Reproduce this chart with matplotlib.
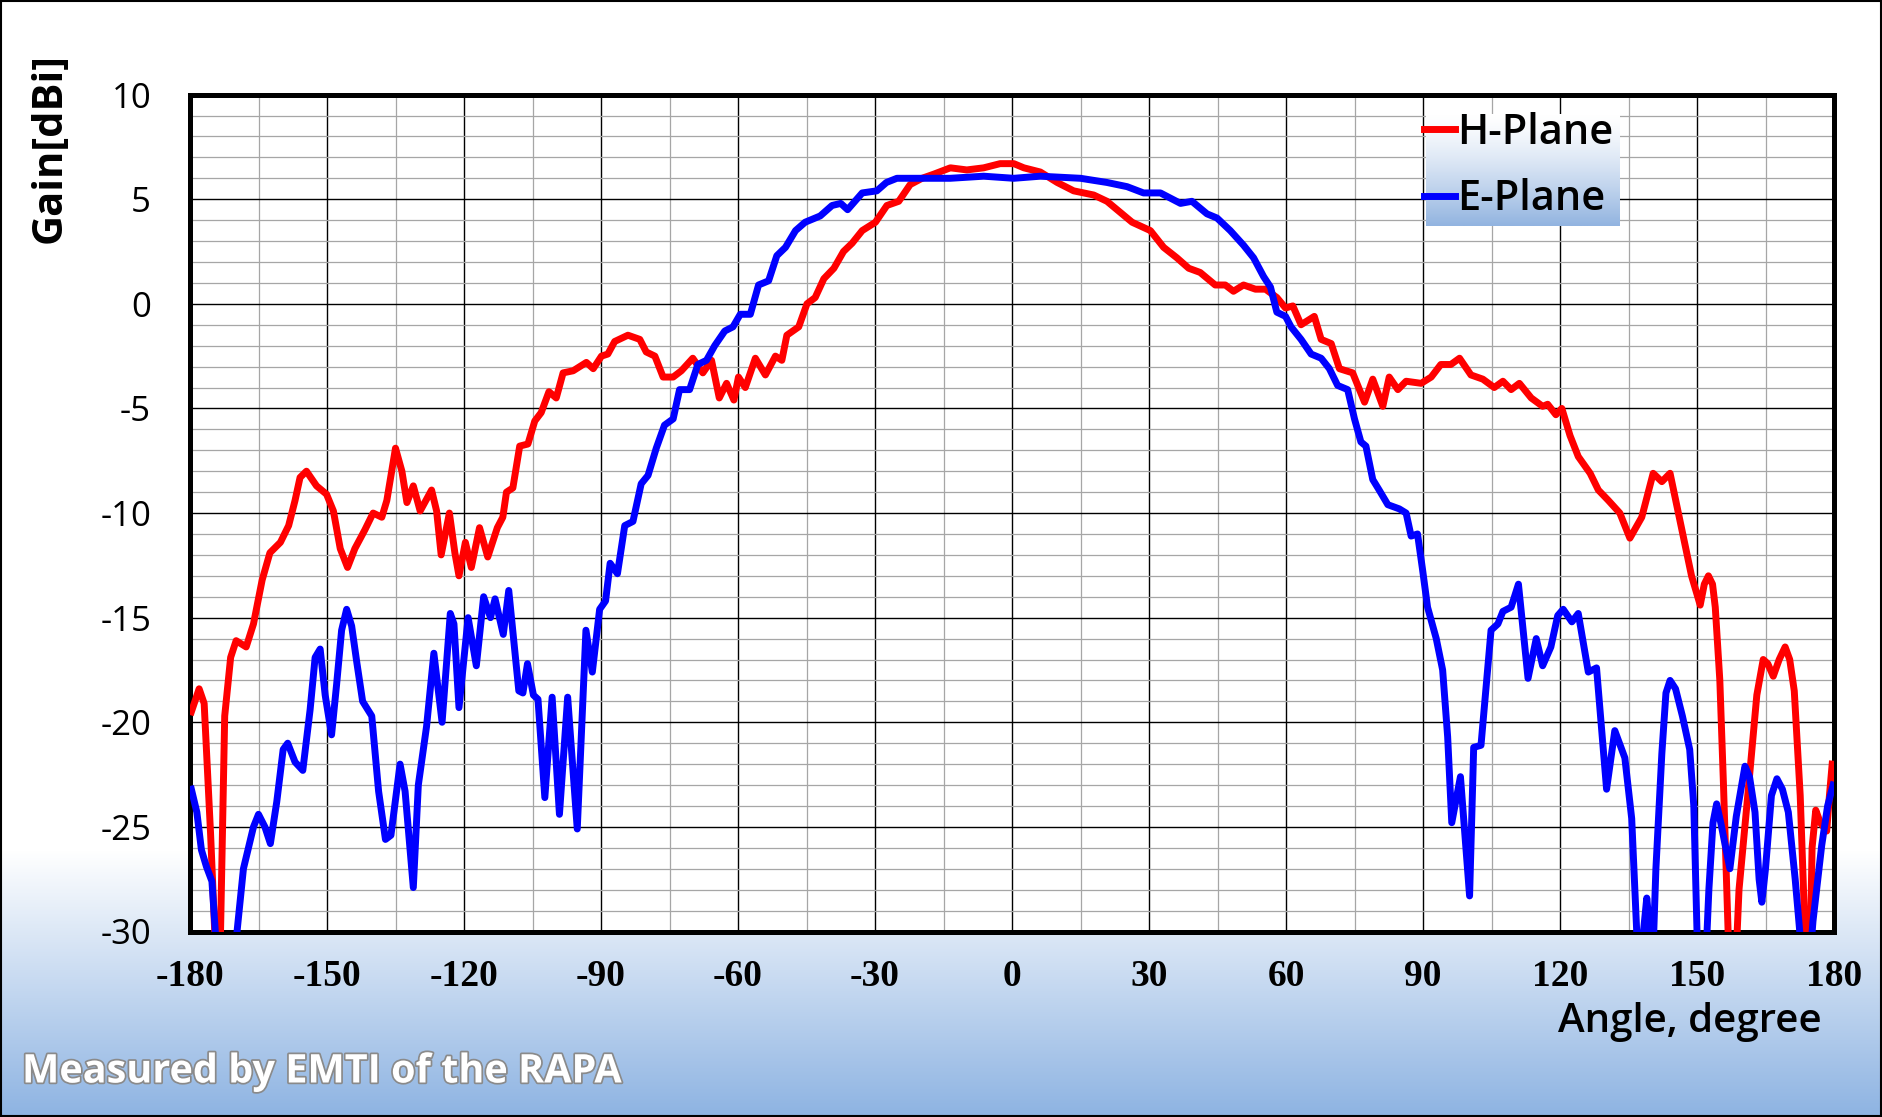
import numpy as np
import matplotlib
matplotlib.use("Agg")
import matplotlib.pyplot as plt
from matplotlib.lines import Line2D
from matplotlib.patches import Rectangle
import matplotlib.patheffects as pe

plt.rcParams["axes.unicode_minus"] = False

# H-Plane gain [dBi] vs angle [deg]
h_angle = [-179.7, -178.0, -176.9, -175.5, -174.6, -174.2, -173.4, -172.4, -171.1, -169.9,
           -167.7, -166.1, -164.2, -162.5, -160.2, -158.4, -157.0, -155.9, -154.5, -152.3,
           -150.1, -148.6, -147.1, -145.5, -143.9, -141.7, -139.9, -138.0, -136.9, -135.0,
           -133.6, -132.5, -131.1, -129.6, -127.1, -126.0, -125.0, -123.2, -122.0, -121.1,
           -119.7, -118.4, -116.6, -114.8, -112.7, -111.5, -110.7, -109.3, -107.8, -106.0,
           -104.5, -103.1, -101.4, -99.8, -98.3, -96.1, -93.2, -91.7, -89.9, -88.5,
           -87.0, -84.1, -81.5, -80.1, -78.2, -76.4, -74.2, -72.4, -69.9, -67.7,
           -65.8, -64.1, -62.5, -60.9, -59.9, -58.4, -56.2, -54.0, -51.8, -50.4,
           -49.3, -46.7, -44.9, -43.1, -41.2, -39.0, -36.9, -35.0, -32.8, -29.9,
           -27.4, -24.8, -22.3, -19.7, -17.1, -13.5, -9.9, -6.2, -2.6, 0.4,
           2.6, 6.2, 9.9, 13.5, 17.9, 20.8, 23.0, 26.3, 30.3, 33.2,
           36.1, 38.7, 41.2, 44.5, 46.7, 48.5, 50.7, 53.3, 55.5, 58.0,
           59.9, 61.5, 63.3, 66.2, 67.7, 69.9, 71.7, 74.6, 77.2, 79.0,
           81.2, 82.6, 84.5, 86.3, 89.6, 91.8, 93.9, 96.1, 98.0, 100.5,
           103.1, 105.6, 107.5, 109.3, 111.1, 113.7, 116.2, 117.3, 119.1, 120.4,
           122.2, 124.0, 126.6, 128.4, 130.6, 133.1, 135.3, 137.9, 140.4, 142.3,
           144.1, 146.6, 148.8, 150.7, 151.6, 152.5, 153.4, 154.0, 155.0, 155.8,
           156.6, 157.1, 158.4, 159.2, 161.2, 163.1, 164.5, 165.5, 166.7, 168.0,
           169.3, 170.3, 171.3, 172.6, 173.4, 173.9, 174.7, 175.2, 176.0, 177.0,
           178.4, 179.0, 179.6]
h_gain = [-19.5, -18.4, -19.1, -25.3, -30.0, -32.0, -31.0, -19.7, -16.9, -16.1,
          -16.4, -15.3, -13.2, -11.9, -11.4, -10.6, -9.4, -8.3, -8.0, -8.7,
          -9.1, -9.9, -11.7, -12.6, -11.7, -10.8, -10.0, -10.2, -9.4, -6.9,
          -8.0, -9.5, -8.7, -9.9, -8.9, -9.9, -12.0, -10.0, -11.9, -13.0,
          -11.4, -12.6, -10.7, -12.1, -10.7, -10.2, -9.0, -8.8, -6.8, -6.7,
          -5.6, -5.2, -4.2, -4.5, -3.3, -3.2, -2.8, -3.1, -2.5, -2.4,
          -1.8, -1.5, -1.7, -2.3, -2.5, -3.5, -3.5, -3.2, -2.6, -3.3,
          -2.7, -4.5, -3.8, -4.6, -3.5, -4.0, -2.6, -3.4, -2.5, -2.7,
          -1.5, -1.1, 0.0, 0.3, 1.2, 1.7, 2.5, 2.9, 3.5, 3.9,
          4.7, 4.9, 5.7, 6.0, 6.2, 6.5, 6.4, 6.5, 6.7, 6.7,
          6.5, 6.3, 5.8, 5.4, 5.2, 4.9, 4.5, 3.9, 3.5, 2.7,
          2.2, 1.7, 1.5, 0.9, 0.9, 0.6, 0.9, 0.7, 0.7, 0.3,
          -0.2, -0.1, -1.0, -0.6, -1.7, -1.9, -3.1, -3.3, -4.7, -3.6,
          -4.9, -3.5, -4.1, -3.7, -3.8, -3.5, -2.9, -2.9, -2.6, -3.4,
          -3.6, -4.0, -3.7, -4.1, -3.8, -4.5, -4.9, -4.8, -5.3, -5.0,
          -6.3, -7.3, -8.1, -8.9, -9.4, -10.0, -11.2, -10.2, -8.1, -8.5,
          -8.1, -10.7, -13.0, -14.4, -13.4, -13.0, -13.4, -14.5, -18.0, -23.0,
          -28.5, -32.0, -32.0, -28.0, -23.3, -18.7, -17.0, -17.2, -17.8, -17.0,
          -16.4, -17.0, -18.5, -23.5, -28.5, -32.0, -32.0, -26.0, -24.2, -24.8,
          -25.2, -23.5, -22.0]

# E-Plane gain [dBi] vs angle [deg]
e_angle = [-179.7, -178.5, -177.5, -176.4, -175.2, -174.3, -173.8, -170.4, -169.7, -168.3,
           -167.2, -166.1, -165.0, -163.6, -162.4, -161.0, -159.6, -158.6, -157.0, -155.3,
           -153.7, -152.6, -151.5, -150.4, -149.0, -147.9, -146.8, -145.7, -144.6, -143.5,
           -142.2, -140.2, -138.7, -137.2, -136.0, -134.0, -132.9, -131.1, -130.0, -128.2,
           -126.6, -124.8, -123.0, -122.2, -121.1, -119.1, -117.3, -115.7, -114.2, -113.2,
           -111.4, -110.2, -108.0, -107.1, -106.1, -104.8, -103.8, -102.3, -100.7, -99.1,
           -97.3, -95.2, -93.3, -91.9, -90.3, -89.0, -88.0, -86.4, -84.8, -83.0,
           -81.2, -79.7, -77.9, -76.1, -74.2, -72.8, -70.6, -68.8, -66.9, -65.1,
           -62.9, -61.1, -59.5, -57.3, -55.5, -53.3, -51.5, -49.6, -47.4, -45.3,
           -42.0, -39.4, -37.5, -36.0, -32.8, -29.6, -27.5, -25.2, -20.1, -13.5,
           -6.2, 0.4, 6.2, 15.0, 20.8, 25.2, 28.8, 32.5, 36.9, 39.4,
           42.7, 44.9, 47.8, 50.7, 52.9, 55.1, 56.6, 58.0, 59.9, 61.1,
           63.3, 65.5, 67.7, 69.5, 71.3, 73.5, 75.0, 76.4, 77.5, 79.0,
           80.4, 82.3, 84.8, 86.3, 87.4, 88.8, 89.9, 91.0, 92.9, 94.3,
           95.4, 96.3, 98.2, 100.2, 101.1, 102.7, 104.9, 106.4, 107.5, 109.3,
           110.9, 113.0, 114.8, 116.2, 118.0, 119.5, 120.7, 122.6, 124.0, 126.2,
           128.0, 130.2, 132.0, 134.2, 135.7, 136.9, 137.6, 138.5, 139.0, 139.6,
           140.3, 141.0, 142.3, 143.2, 144.1, 145.3, 146.8, 148.4, 149.3, 150.0,
           150.6, 151.8, 152.6, 153.5, 154.3, 155.2, 157.2, 158.6, 160.5, 161.5,
           162.7, 163.6, 164.2, 165.0, 166.3, 167.5, 168.7, 170.0, 171.5, 172.7,
           173.4, 174.5, 175.4, 177.3, 178.6, 179.8]
e_gain = [-23.2, -24.3, -26.1, -26.9, -27.6, -30.5, -32.0, -32.0, -30.0, -27.0,
          -26.0, -25.0, -24.4, -25.0, -25.8, -23.8, -21.3, -21.0, -21.9, -22.3,
          -19.4, -16.9, -16.5, -18.7, -20.6, -18.2, -15.6, -14.6, -15.4, -17.1,
          -19.0, -19.7, -23.3, -25.6, -25.4, -22.0, -23.3, -27.9, -23.0, -20.2,
          -16.7, -20.0, -14.8, -15.3, -19.3, -15.0, -17.3, -14.0, -15.0, -14.1,
          -15.8, -13.7, -18.5, -18.6, -17.2, -18.7, -18.9, -23.6, -18.8, -24.4,
          -18.8, -25.1, -15.6, -17.6, -14.6, -14.2, -12.4, -12.9, -10.6, -10.4,
          -8.6, -8.2, -6.9, -5.8, -5.5, -4.1, -4.1, -2.9, -2.7, -2.0,
          -1.3, -1.1, -0.5, -0.5, 0.9, 1.1, 2.3, 2.7, 3.5, 3.9,
          4.2, 4.7, 4.8, 4.5, 5.3, 5.4, 5.8, 6.0, 6.0, 6.0,
          6.1, 6.0, 6.1, 6.0, 5.8, 5.6, 5.3, 5.3, 4.8, 4.9,
          4.3, 4.1, 3.5, 2.8, 2.2, 1.3, 0.8, -0.4, -0.6, -1.1,
          -1.7, -2.4, -2.6, -3.1, -3.9, -4.1, -5.5, -6.6, -6.8, -8.4,
          -8.9, -9.6, -9.8, -10.0, -11.1, -11.0, -12.7, -14.5, -16.0, -17.5,
          -20.7, -24.8, -22.6, -28.3, -21.2, -21.1, -15.6, -15.3, -14.7, -14.5,
          -13.4, -17.9, -16.0, -17.3, -16.4, -14.9, -14.6, -15.2, -14.8, -17.6,
          -17.4, -23.2, -20.4, -21.7, -24.6, -30.5, -31.5, -29.5, -28.4, -29.8,
          -31.5, -27.0, -21.5, -18.6, -18.0, -18.4, -19.7, -21.3, -24.0, -30.0,
          -32.0, -32.0, -28.0, -24.8, -23.9, -24.8, -27.0, -24.5, -22.1, -22.6,
          -24.3, -27.5, -28.6, -27.0, -23.5, -22.7, -23.2, -24.3, -27.5, -30.5,
          -32.0, -32.0, -29.5, -25.9, -24.0, -23.0]

x_ticks = list(range(-180, 181, 30))
y_ticks = list(range(-30, 11, 5))

W, H = 1882, 1117
fig = plt.figure(figsize=(W / 100, H / 100), dpi=100)

# background: white on top, fading to light blue at the bottom
bg = fig.add_axes([0, 0, 1, 1], zorder=-10)
top_c = np.array([1.0, 1.0, 1.0])
bot_c = np.array([141, 179, 226]) / 255
start = 850
t = np.clip((np.arange(H) - start) / (H - start), 0, 1)
rows = top_c[None, :] * (1 - t[:, None]) + bot_c[None, :] * t[:, None]
bg.imshow(rows[:, None, :], aspect="auto", extent=[0, 1, 0, 1], origin="upper")
bg.set_axis_off()

ax = fig.add_axes([190 / W, 1 - 931.5 / H, (1834 - 190) / W, (931.5 - 94.6) / H])
ax.set_facecolor("white")

ax.plot(h_angle, h_gain, color="#FF0000", lw=5, solid_joinstyle="round", zorder=3)
ax.plot(e_angle, e_gain, color="#0000FF", lw=5, solid_joinstyle="round", zorder=3)

ax.set_xlim(-180, 180)
ax.set_ylim(-30, 10)
ax.set_xticks(x_ticks)
ax.set_yticks(y_ticks)
ax.set_xticks(np.arange(-180, 181, 15), minor=True)
ax.set_yticks(np.arange(-30, 11, 1), minor=True)
ax.grid(which="minor", color="#A6A6A6", lw=0.9, zorder=0)
ax.grid(which="major", color="black", lw=1.0, zorder=1)
ax.set_axisbelow(True)
ax.tick_params(which="both", length=0)
ax.tick_params(axis="y", pad=28)
ax.tick_params(axis="x", pad=20)
for lab in ax.get_yticklabels():
    lab.set_fontfamily("Open Sans")
    lab.set_fontsize(25)
for lab in ax.get_xticklabels():
    lab.set_fontfamily("Liberation Serif")
    lab.set_fontweight("bold")
    lab.set_fontsize(27)
for sp in ax.spines.values():
    sp.set_linewidth(3.6)
    sp.set_color("black")

fig.text(50 / W, 1 - 148 / H, "Gain[dBi]", rotation=90, ha="center", va="center",
         fontsize=30, fontweight="bold", family="Open Sans")
fig.text(1822 / W, 1 - 1022 / H, "Angle, degree", ha="right", va="center",
         fontsize=29, fontweight="semibold", family="Open Sans")
fig.text(22 / W, 1 - 1072 / H, "Measured by EMTI of the RAPA", ha="left", va="center",
         fontsize=28.5, fontweight="bold", family="Open Sans", color="white",
         path_effects=[pe.withStroke(linewidth=2.5, foreground="#8a8a8a")])

# legend with a gradient box
lx0, ly0, lx1, ly1 = 1426, 114, 1620, 226
lg_ax = fig.add_axes([lx0 / W, 1 - ly1 / H, (lx1 - lx0) / W, (ly1 - ly0) / H], zorder=5)
tt = np.linspace(0, 1, 100) ** 1.3
grad = top_c[None, :] * (1 - tt[:, None]) + np.array([146, 180, 224])[None, :] / 255 * tt[:, None]
lg_ax.imshow(grad[:, None, :], aspect="auto", extent=[0, 1, 0, 1], origin="upper")
lg_ax.set_axis_off()

handles = [Line2D([], [], color="#FF0000", lw=5), Line2D([], [], color="#0000FF", lw=5)]
fig.legend(handles, ["H-Plane", "E-Plane"], loc="upper left",
           bbox_to_anchor=(1424 / W, 1 - 112 / H), frameon=False,
           prop={"family": "Open Sans", "size": 30, "weight": "semibold"},
           handlelength=0.75, handletextpad=0.05, labelspacing=0.58, borderpad=0,
           borderaxespad=0)

fig.patches.append(Rectangle((0.0004, 0.0007), 0.9992, 0.9986, transform=fig.transFigure,
                             fill=False, edgecolor="black", lw=1.5))

fig.savefig("out.png", dpi=100)
